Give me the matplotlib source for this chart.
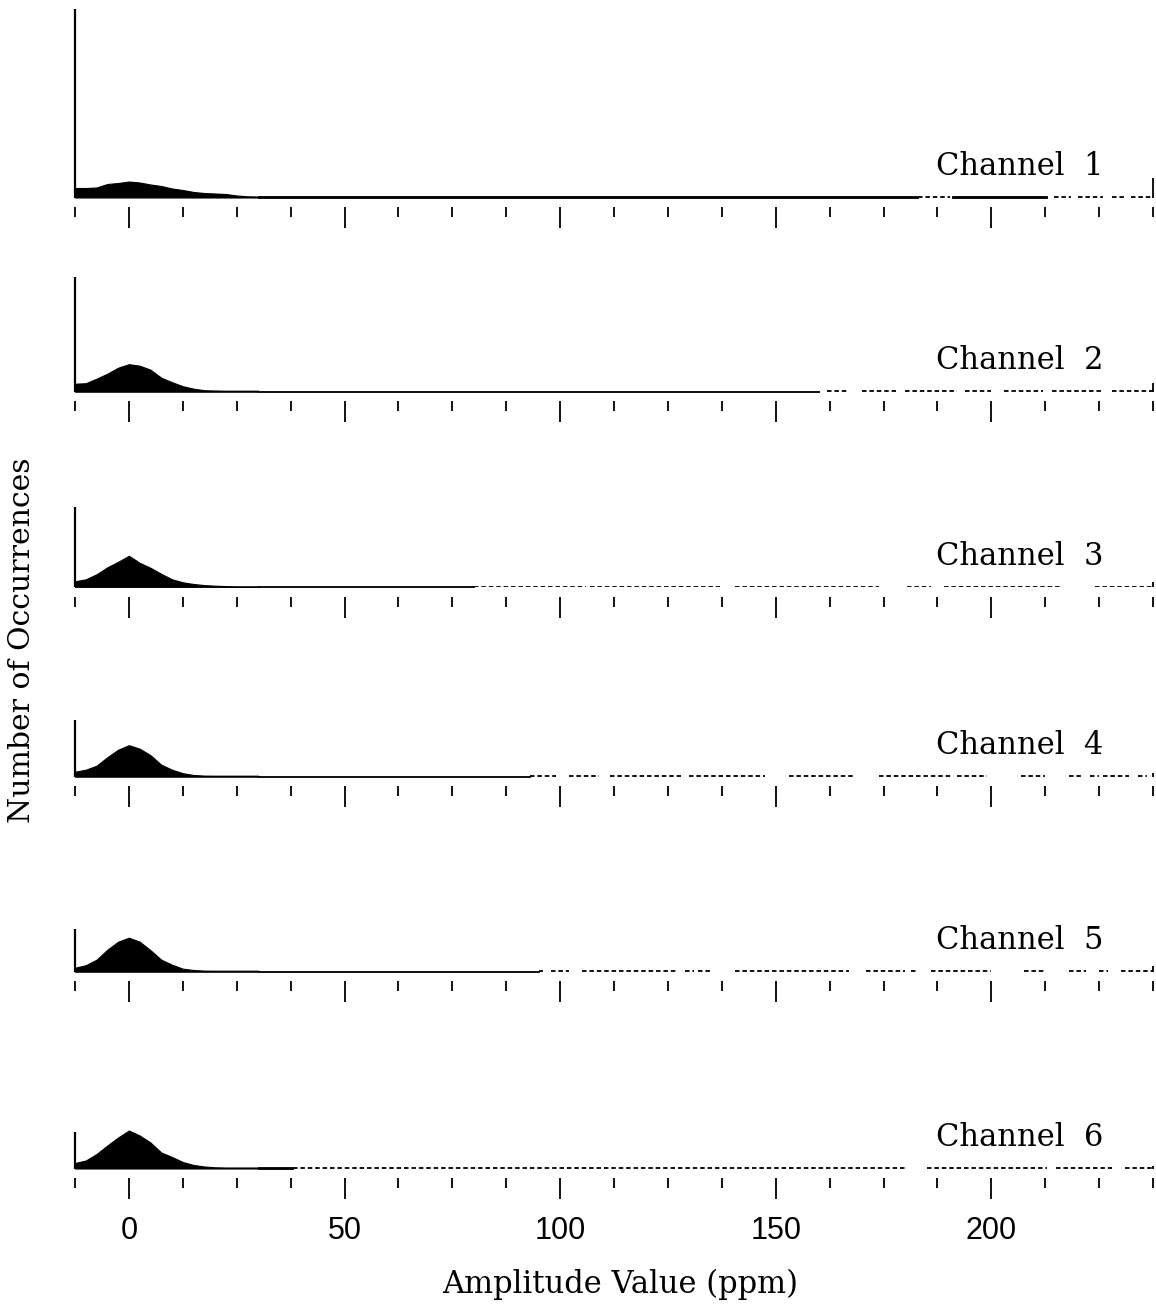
import matplotlib
matplotlib.use("Agg")
import matplotlib.pyplot as plt
from matplotlib.ticker import MultipleLocator, FixedLocator
import numpy as np

# ---------------- data (arbitrary count units) ----------------
channels = ["Channel  1", "Channel  2", "Channel  3", "Channel  4", "Channel  5", "Channel  6"]

amp_points = [-12.5, -10, -7.5, -5, -2.5, 0, 2.5, 5, 7.5, 10, 12.5, 15, 17.5, 20, 22.5, 25, 27.5, 30]

counts_ch1 = [9.5, 9.5, 10, 13.5, 14.5, 16, 15, 13, 11.5, 9, 7.5, 5.5, 4.5, 4, 3.5, 2, 1.2, 1]
counts_ch2 = [8, 8.5, 13, 18, 24, 27.5, 26, 22, 14, 9.5, 5.5, 3, 1.5, 1.2, 1, 1, 1, 1]
counts_ch3 = [6, 8, 13, 20, 25.5, 31.5, 24.5, 19.5, 13.5, 8, 5, 3.3, 2.2, 1.6, 1.2, 1, 1, 1]
counts_ch4 = [5, 7, 11, 19.5, 27, 31.5, 28, 21.5, 12, 7, 3.5, 1.7, 1.1, 1, 1, 1, 1, 1]
counts_ch5 = [4, 6.5, 12, 22, 30, 34, 30, 21.5, 12, 7, 3, 1.7, 1.1, 1, 1, 1, 1, 1]
counts_ch6 = [5.5, 8, 14.5, 23, 31, 38, 33, 26, 16, 11.5, 6.5, 3.5, 2, 1.2, 1, 1, 1, 1]

# counts piled in the lowest (clipped) bin and the highest (clipped) bin
low_clip = [189, 115, 80, 57, 43, 37]
high_clip = [20, 9, 5, 4, 6, 3]

# level of the sparse tail (about one count)
tail_level = 1.0

# continuous part of the tail (ppm ranges)
tail_solid = [
    [(30, 183), (191, 213)],
    [(30, 160)],
    [(30, 80)],
    [(30, 93)],
    [(30, 95)],
    [(30, 38)],
]
# broken (sparse) parts of the tail (ppm ranges)
tail_sparse = [
    [(183, 190.5), (214.5, 218.5), (220, 226), (228, 231), (232.5, 237.5)],
    [(162, 167), (170, 178), (180, 192), (194, 200), (203, 212), (214, 226), (228, 237.5)],
    [(80, 106), (107, 137), (140.6, 174), (180.5, 186), (189, 216.5), (224, 237.5)],
    [(93, 99), (102, 109), (111.6, 128), (130, 147.6), (153, 168), (174, 191),
     (192, 199), (207, 212.5), (218, 221), (223, 225), (226, 232), (234, 236)],
    [(95, 96), (98, 102), (105, 127), (129, 131), (132, 135), (140.6, 167), (171, 180),
     (181.4, 183), (186, 200), (207.6, 212.5), (218, 222), (225, 227), (230, 237.5)],
    [(38, 180), (185, 213), (215, 228), (231, 237.5)],
]

x_min, x_max = -12.5, 237.5
major_ticks = [0, 50, 100, 150, 200]
tick_labels = ["0", "50", "100", "150", "200"]
x_label = "Amplitude Value (ppm)"
y_label = "Number of Occurrences"

all_counts = [counts_ch1, counts_ch2, counts_ch3, counts_ch4, counts_ch5, counts_ch6]

# ---------------- layout ----------------
W, H = 1156, 1311
fig = plt.figure(figsize=(W / 100, H / 100), dpi=100)
baselines_px = [197.5, 391.7, 587.3, 776.7, 971.7, 1168.5]
left_px, right_px = 75, 1153
panel_h_px = 190

serif = ["DejaVu Serif"]
sans = ["Liberation Sans", "DejaVu Sans"]

for i, (name, cnt) in enumerate(zip(channels, all_counts)):
    b = baselines_px[i]
    ax = fig.add_axes([left_px / W, (H - b) / H, (right_px - left_px) / W, panel_h_px / H])
    ax.set_xlim(x_min, x_max)
    ax.set_ylim(0, panel_h_px)
    ax.patch.set_alpha(0)
    for s in ["left", "right", "top"]:
        ax.spines[s].set_visible(False)
    ax.spines["bottom"].set_position(("outward", 7))
    ax.spines["bottom"].set_visible(False)

    # main hump
    ax.fill_between(amp_points, 0, cnt, color="black", lw=0.8, edgecolor="black")
    # tails
    for (a0, a1) in tail_solid[i]:
        ax.fill_between([a0, a1], 0, [tail_level * 1.2, tail_level * 1.2], color="black", lw=0.6)
    for (a0, a1) in tail_sparse[i]:
        ax.hlines(tail_level * 0.8, a0, a1, colors="black", lw=1.3,
                  linestyles=(0, (2.5, 1.6)))
    # clipped end bins
    ax.vlines(x_min, 0, low_clip[i], colors="black", lw=1.6, clip_on=False)
    ax.vlines(x_max, 0, high_clip[i], colors="black", lw=1.3, clip_on=False)

    ax.text(226, 31, name, ha="right", va="center", fontsize=22, family=serif)

    ax.xaxis.set_major_locator(FixedLocator(major_ticks))
    ax.xaxis.set_minor_locator(MultipleLocator(12.5))
    ax.yaxis.set_visible(False)
    ax.tick_params(axis="x", which="major", direction="out", length=15, width=1.3, color="black")
    ax.tick_params(axis="x", which="minor", direction="out", length=7, width=1.3, color="black")
    if i == len(channels) - 1:
        ax.set_xticklabels(tick_labels, fontsize=22, family=sans)
        ax.tick_params(axis="x", which="major", pad=12)
    else:
        ax.set_xticklabels([])

fig.text(620 / W, 1 - 1284 / H, x_label, ha="center", va="center", fontsize=22, family=serif)
fig.text(22 / W, 1 - 640 / H, y_label, ha="center", va="center", rotation=90, fontsize=21.5, family=serif)

fig.savefig("out.png", dpi=100, facecolor="white")
